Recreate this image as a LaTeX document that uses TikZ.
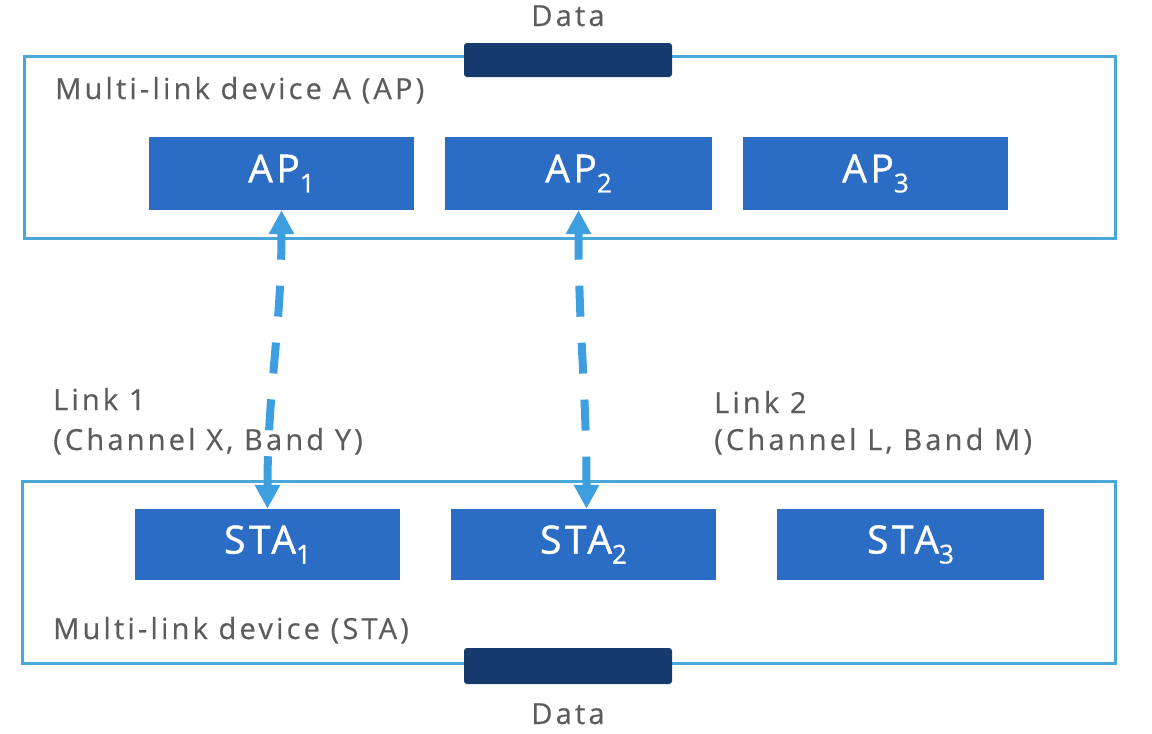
\documentclass[tikz,border=0pt]{standalone}
\usepackage{fontspec}
\usetikzlibrary{arrows.meta}
\newfontfamily\greyfont{Open Sans}[LetterSpace=11,FakeBold=0.4]
\newfontfamily\boxfont{Open Sans}[LetterSpace=9,FakeBold=1]
\definecolor{outline}{HTML}{4AA8D8}
\definecolor{boxblue}{HTML}{2B6CC4}
\definecolor{navy}{HTML}{173B6F}
\definecolor{arrowblue}{HTML}{3D9FE0}
\definecolor{greytext}{HTML}{5C5C5C}
\newcommand\sbs[1]{\raisebox{-10pt}{\fontsize{26}{26}\selectfont #1}}
\tikzset{
  device/.style={draw=outline, line width=3pt, fill=white, inner sep=0pt},
  unitbox/.style={fill=boxblue, text=white, inner sep=0pt, minimum height=72pt,
    font=\boxfont\fontsize{39}{39}\selectfont},
  databar/.style={fill=navy, rounded corners=3pt, inner sep=0pt, minimum width=208pt},
  greylabel/.style={text=greytext, inner sep=0pt, font=\greyfont\fontsize{29}{38}\selectfont},
  linkarrow/.style={draw=arrowblue, line width=8pt, dash pattern=on 31pt off 26pt, dash phase=4pt,
    {Triangle[width=24pt,length=24pt]}-{Triangle[width=24pt,length=24pt]}}
}
\begin{document}
\begin{tikzpicture}[x=1pt,y=-1pt]
\useasboundingbox (0,0) rectangle (1152,734);
% outer devices
\node[device, minimum width=1091pt, minimum height=182pt] (mldap) at (569.5,147) {};
\node[device, minimum width=1093pt, minimum height=182pt] (mldsta) at (568.5,572) {};
% data bars
\node[databar, minimum height=34pt] (datatop) at (568,60) {};
\node[databar, minimum height=36pt] (databot) at (568,666) {};
\node[greylabel, anchor=base] (datatoplbl) at (568,26) {Data};
\node[greylabel, anchor=base] (databotlbl) at (568,724) {Data};
% AP boxes
\node[unitbox, minimum width=265pt, minimum height=73pt] (ap1) at (281.5,173.5) {AP\sbs{1}};
\node[unitbox, minimum width=267pt, minimum height=73pt] (ap2) at (578.5,173.5) {AP\sbs{2}};
\node[unitbox, minimum width=265pt, minimum height=73pt] (ap3) at (875.5,173.5) {AP\sbs{3}};
% STA boxes
\node[unitbox, minimum width=265pt, minimum height=71pt] (sta1) at (267.5,544.5) {STA\sbs{1}};
\node[unitbox, minimum width=265pt, minimum height=71pt] (sta2) at (583.5,544.5) {STA\sbs{2}};
\node[unitbox, minimum width=267pt, minimum height=71pt] (sta3) at (910.5,544.5) {STA\sbs{3}};
% labels
\node[greylabel, anchor=base west] (aplbl) at (55,99) {Multi-link device A (AP)};
\node[greylabel, anchor=base west] (stalbl) at (53,639) {Multi-link device (STA)};
\node[greylabel, anchor=base west] (link1a) at (53,410) {Link 1};
\node[greylabel, anchor=base west] (link1b) at (53,450) {(Channel X, Band Y)};
\node[greylabel, anchor=base west] (link2a) at (714,413) {Link 2};
\node[greylabel, anchor=base west] (link2b) at (714,450) {(Channel L, Band M)};
% links
\draw[linkarrow] (ap1.south) to[out=-90,in=90] (sta1.north);
\draw[linkarrow] (ap2.south) to[out=-90,in=90] ([xshift=3pt]sta2.north);
\end{tikzpicture}
\end{document}
